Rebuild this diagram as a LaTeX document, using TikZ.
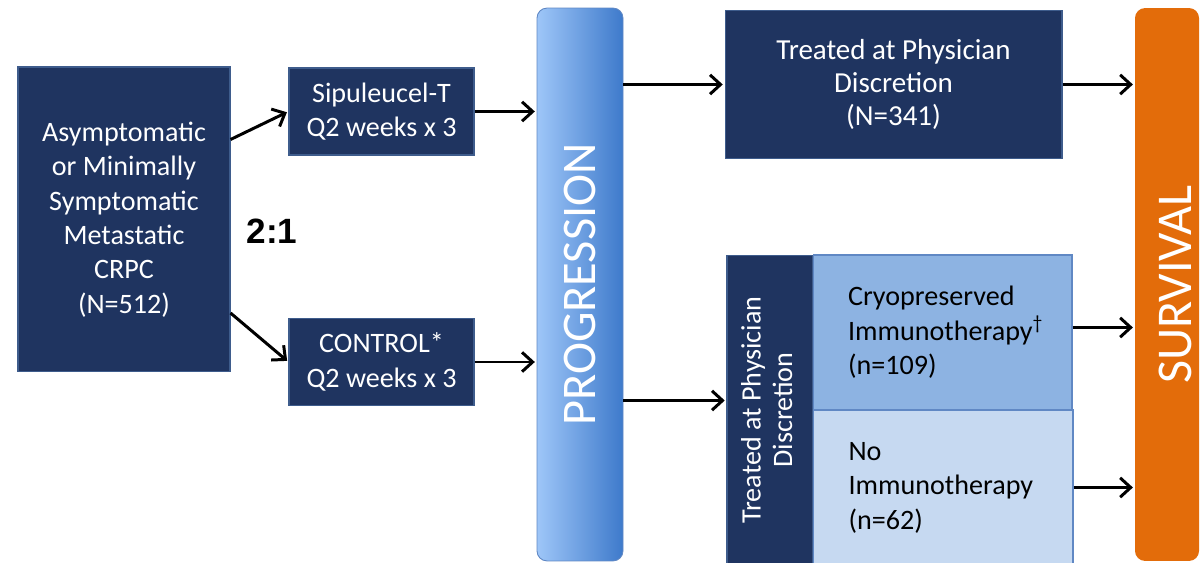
\documentclass[tikz,border=0pt]{standalone}
\usepackage{fontspec}
\setmainfont{Carlito}
\newfontfamily\arialfont{Liberation Sans}
\usetikzlibrary{arrows.meta}
\definecolor{navy}{RGB}{31,52,96}
\definecolor{navyedge}{RGB}{62,92,140}
\definecolor{progleft}{RGB}{158,198,248}
\definecolor{progright}{RGB}{62,122,203}
\definecolor{survorange}{RGB}{227,108,10}
\definecolor{cryoblue}{RGB}{141,179,226}
\definecolor{paleblue}{RGB}{198,217,241}
\definecolor{lightedge}{RGB}{96,136,196}
\begin{document}
\begin{tikzpicture}[x=0.02cm,y=-0.02cm,
  box/.style={draw=navyedge,line width=0.6pt,fill=navy,text=white,align=center,inner sep=0pt,font=\fontsize{16}{19.6}\selectfont},
  armbox/.style={box,text=black,draw=lightedge,align=left,inner xsep=0.7cm,text width=3.78cm,minimum width=5.18cm,minimum height=3.1cm},
  bar/.style={inner sep=0pt,text=white,rounded corners=0.2cm,font=\fontsize{27.5}{32}\selectfont},
  arr/.style={line width=1.7pt,-{Straight Barb[length=6pt,width=11pt]},shorten >=1pt}]
  \useasboundingbox (0,0) rectangle (1202,563);
  \node[box,minimum width=4.24cm,minimum height=6.1cm] (src) at (124,219.5) {Asymptomatic\\or Minimally\\Symptomatic\\Metastatic\\CRPC\\(N=512)};
  \node[font=\arialfont\bfseries\fontsize{20}{24}\selectfont] (ratio) at (272,231) {2:1};
  \node[box,minimum width=3.7cm,minimum height=1.74cm] (sipt) at (381.5,111.5) {Sipuleucel-T\\Q2 weeks x 3};
  \node[box,minimum width=3.7cm,minimum height=1.74cm] (ctrl) at (381.5,362) {CONTROL*\\Q2 weeks x 3};
  \node[bar,draw=lightedge,line width=0.5pt,left color=progleft,right color=progright,minimum width=1.72cm,minimum height=11.06cm] (prog) at (580,284.5) {\rotatebox{90}{PROGRESSION}};
  \node[box,minimum width=6.74cm,minimum height=2.96cm,font=\fontsize{16.5}{19}\selectfont] (discr) at (893.5,84.5) {Treated at Physician\\Discretion\\(N=341)};
  \node[box,minimum width=1.72cm,minimum height=6.2cm,font=\fontsize{16}{18}\selectfont] (tpd) at (770,410) {\rotatebox{90}{\begin{tabular}{@{}c@{}}Treated at Physician\\Discretion\end{tabular}}};
  \node[armbox,fill=cryoblue] (cryo) at (942.5,332.5) {Cryopreserved\\Immunotherapy\textsuperscript{\textdagger}\\(n=109)};
  \node[armbox,fill=paleblue,minimum width=5.2cm] (noimm) at (943,487.5) {No\\Immunotherapy\\(n=62)};
  \node[bar,fill=survorange,minimum width=1.28cm,minimum height=11.06cm,font=\fontsize{28.5}{32}\selectfont] (surv) at (1167,284.5) {\rotatebox{90}{\raisebox{-0.17cm}[\height][0pt]{SURVIVAL}}};
  \draw[arr] ([yshift=1.6cm]src.east) -- (sipt.west);
  \draw[arr] ([yshift=-1.87cm]src.east) -- (ctrl.west);
  \draw[arr] (sipt.east) -- (sipt.east -| prog.west);
  \draw[arr] (ctrl.east) -- (ctrl.east -| prog.west);
  \draw[arr] (discr.west -| prog.east) -- (discr.west);
  \draw[arr] ([yshift=0.19cm]tpd.west -| prog.east) -- ([yshift=0.19cm]tpd.west);
  \draw[arr] (discr.east) -- (discr.east -| surv.west);
  \draw[arr] ([yshift=0.1cm]cryo.east) -- ([yshift=0.1cm]cryo.east -| surv.west);
  \draw[arr] (noimm.east) -- (noimm.east -| surv.west);
\end{tikzpicture}
\end{document}
